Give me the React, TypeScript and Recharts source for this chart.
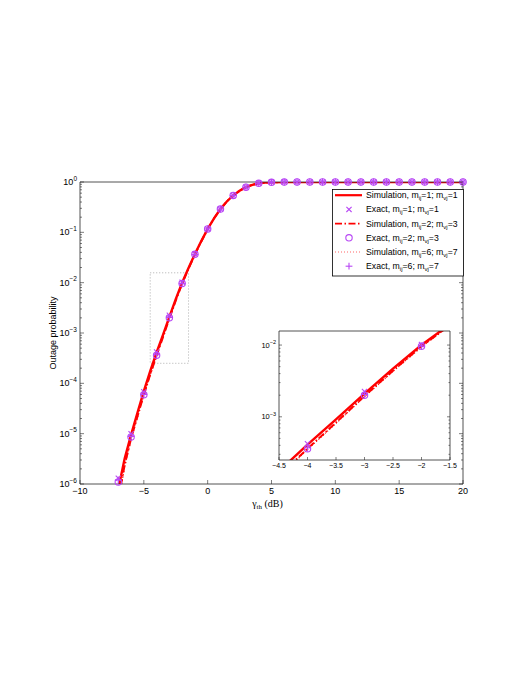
import { ComposedChart, Line, Scatter, XAxis, YAxis, ReferenceArea } from 'recharts';

const RED = '#ff0000';
const PURPLE = '#b847f5';
const AXIS = '#262626';
const SANS = '"Liberation Sans", Arial, Helvetica, sans-serif';
const SERIF = '"Liberation Serif", "DejaVu Serif", serif';

// simulation grid, threshold in dB
const simX = [-7, -6.5, -6, -5.5, -5, -4.5, -4, -3.5, -3, -2.5, -2, -1.5, -1, -0.5, 0, 0.5, 1, 1.5, 2, 2.5, 3, 3.5, 4, 4.5, 5,
  6, 7, 8, 9, 10, 11, 12, 13, 14, 15, 16, 17, 18, 19, 20];
const simM1 = [8e-7, 3.2e-6, 9.5e-6, 2.6e-5, 7.0e-5, 1.75e-4, 4.1e-4, 9.2e-4, 2.1e-3, 4.7e-3, 1.0e-2, 1.95e-2, 3.7e-2, 6.7e-2, 0.117, 0.19, 0.29, 0.41, 0.54, 0.67, 0.79, 0.88, 0.94, 0.97, 0.985,
  0.997, 0.9995, 1, 1, 1, 1, 1, 1, 1, 1, 1, 1, 1, 1, 1];
const simM23 = [5e-7, 2.4e-6, 8.0e-6, 2.2e-5, 5.9e-5, 1.5e-4, 3.6e-4, 8.3e-4, 1.95e-3, 4.4e-3, 9.6e-3, 1.9e-2, 3.6e-2, 6.6e-2, 0.116, 0.19, 0.29, 0.41, 0.54, 0.67, 0.79, 0.88, 0.94, 0.97, 0.985,
  0.997, 0.9995, 1, 1, 1, 1, 1, 1, 1, 1, 1, 1, 1, 1, 1];
const simM67 = [4.5e-7, 2.2e-6, 7.6e-6, 2.1e-5, 5.7e-5, 1.45e-4, 3.5e-4, 8.1e-4, 1.9e-3, 4.3e-3, 9.4e-3, 1.88e-2, 3.6e-2, 6.6e-2, 0.116, 0.19, 0.29, 0.41, 0.54, 0.67, 0.79, 0.88, 0.94, 0.97, 0.985,
  0.997, 0.9995, 1, 1, 1, 1, 1, 1, 1, 1, 1, 1, 1, 1, 1];

// closed form points
const exactX = [-7, -6, -5, -4, -3, -2, -1, 0, 1, 2, 3, 4, 5, 6, 7, 8, 9, 10, 11, 12, 13, 14, 15, 16, 17, 18, 19, 20];
const exactM1 = [1.3e-6, 1.0e-5, 6.8e-5, 4.2e-4, 2.25e-3, 1.02e-2, 3.7e-2, 0.117, 0.29, 0.54, 0.79, 0.94, 0.985, 0.997,
  1, 1, 1, 1, 1, 1, 1, 1, 1, 1, 1, 1, 1, 1];
const exactM23 = [1.1e-6, 8.6e-6, 5.9e-5, 3.6e-4, 2.0e-3, 9.6e-3, 3.65e-2, 0.117, 0.29, 0.54, 0.79, 0.94, 0.985, 0.997,
  1, 1, 1, 1, 1, 1, 1, 1, 1, 1, 1, 1, 1, 1];
const exactM67 = [1.2e-6, 8.8e-6, 6.0e-5, 3.7e-4, 2.05e-3, 9.7e-3, 3.65e-2, 0.117, 0.29, 0.54, 0.79, 0.94, 0.985, 0.997,
  1, 1, 1, 1, 1, 1, 1, 1, 1, 1, 1, 1, 1, 1];

const xTicks = [-10, -5, 0, 5, 10, 15, 20];
const decades = [-6, -5, -4, -3, -2, -1, 0];
const insetXTicks = [-4.5, -4, -3.5, -3, -2.5, -2, -1.5];
const insetDecades = [-4, -3, -2, -1];

const legendRows = [
  { kind: 'Simulation', mij: 1, mvj: 1, icon: 'solid' },
  { kind: 'Exact', mij: 1, mvj: 1, icon: 'x' },
  { kind: 'Simulation', mij: 2, mvj: 3, icon: 'dashdot' },
  { kind: 'Exact', mij: 2, mvj: 3, icon: 'o' },
  { kind: 'Simulation', mij: 6, mvj: 7, icon: 'dot' },
  { kind: 'Exact', mij: 6, mvj: 7, icon: '+' },
];

const pts = (xs: number[], ys: number[]) => xs.map((x, i) => ({ x, y: ys[i] }));

const logTicks = (ds: number[], lo: number, hi: number) => {
  const t: number[] = [];
  ds.forEach((k) => {
    for (let m = 1; m < 10; m++) t.push(m * Math.pow(10, k));
  });
  return t.filter((v) => v >= lo * 0.999 && v <= hi * 1.001);
};

const isMajor = (v: number) => Math.abs(Math.log10(v) - Math.round(Math.log10(v))) < 1e-6;
const num = (v: number) => (v < 0 ? '\u2212' + String(-v) : String(v));

const sim1 = pts(simX, simM1);
const sim23 = pts(simX, simM23);
const sim67 = pts(simX, simM67);
const ex1 = pts(exactX, exactM1);
const ex23 = pts(exactX, exactM23);
const ex67 = pts(exactX, exactM67);

const makeLeftTick = (fs: number, sup: number, len: number) => (p: any) => {
  const { x, y, payload } = p;
  const v = payload.value;
  const major = isMajor(v);
  return (
    <g>
      <line x1={x} x2={x + (major ? len : len / 2)} y1={y} y2={y} stroke={AXIS} strokeWidth={0.6} />
      {major && (
        <text x={x - 3} y={y + fs / 3} textAnchor="end" fontFamily={SANS} fontSize={fs} fill="#000">
          10<tspan dy={-fs / 2} fontSize={sup}>{num(Math.round(Math.log10(v)))}</tspan>
        </text>
      )}
    </g>
  );
};

const makeRightTick = (len: number) => (p: any) => {
  const { x, y, payload } = p;
  const major = isMajor(payload.value);
  return <line x1={x} x2={x - (major ? len : len / 2)} y1={y} y2={y} stroke={AXIS} strokeWidth={0.6} />;
};

const makeBottomTick = (fs: number, len: number) => (p: any) => {
  const { x, y, payload } = p;
  return (
    <g>
      <line x1={x} x2={x} y1={y} y2={y - len} stroke={AXIS} strokeWidth={0.6} />
      <text x={x} y={y + fs + 1} textAnchor="middle" fontFamily={SANS} fontSize={fs} fill="#000">
        {num(payload.value)}
      </text>
    </g>
  );
};

const makeTopTick = (len: number) => (p: any) => {
  const { x, y } = p;
  return <line x1={x} x2={x} y1={y} y2={y + len} stroke={AXIS} strokeWidth={0.6} />;
};

const CrossMark = (p: any) => (
  <g stroke={PURPLE} strokeWidth={1.1}>
    <line x1={p.cx - 2.6} y1={p.cy - 2.6} x2={p.cx + 2.6} y2={p.cy + 2.6} />
    <line x1={p.cx - 2.6} y1={p.cy + 2.6} x2={p.cx + 2.6} y2={p.cy - 2.6} />
  </g>
);
const CircleMark = (p: any) => <circle cx={p.cx} cy={p.cy} r={3.2} fill="none" stroke={PURPLE} strokeWidth={1.1} />;
const PlusMark = (p: any) => (
  <g stroke={PURPLE} strokeWidth={1.1}>
    <line x1={p.cx - 3.4} y1={p.cy} x2={p.cx + 3.4} y2={p.cy} />
    <line x1={p.cx} y1={p.cy - 3.4} x2={p.cx} y2={p.cy + 3.4} />
  </g>
);

const DASHDOT = '7 2.5 1.5 2.5';
const DOTTED = '1 2';

function LegendBox() {
  const rowY = (i: number) => 6.2 + i * 14.2;
  return (
    <svg width={132} height={88} style={{ position: 'absolute', left: 324, top: 181 }}>
      <rect x={0.5} y={0.5} width={131} height={86.5} fill="#fff" stroke="#000" strokeWidth={0.8} />
      {legendRows.map((r, i) => {
        const cy = rowY(i);
        let icon = null;
        if (r.icon === 'solid') icon = <line x1={3} x2={30} y1={cy} y2={cy} stroke={RED} strokeWidth={2.2} />;
        if (r.icon === 'dashdot') icon = <line x1={3} x2={30} y1={cy} y2={cy} stroke={RED} strokeWidth={1.8} strokeDasharray={DASHDOT} />;
        if (r.icon === 'dot') icon = <line x1={3} x2={30} y1={cy} y2={cy} stroke={RED} strokeWidth={1} strokeDasharray={DOTTED} opacity={0.6} />;
        if (r.icon === 'x') icon = <CrossMark cx={17} cy={cy} />;
        if (r.icon === 'o') icon = <CircleMark cx={17} cy={cy} />;
        if (r.icon === '+') icon = <PlusMark cx={17} cy={cy} />;
        return (
          <g key={i}>
            {icon}
            <text x={34} y={cy + 3} fontFamily={SANS} fontSize={8.7} fill="#000">
              {r.kind}, m<tspan dy={2} fontSize={6}>ij</tspan>
              <tspan dy={-2}>={r.mij}; m</tspan>
              <tspan dy={2} fontSize={6}>vj</tspan>
              <tspan dy={-2}>={r.mvj}</tspan>
            </text>
          </g>
        );
      })}
    </svg>
  );
}

function Inset() {
  const yTicks = logTicks(insetDecades, 2.5e-4, 0.0157);
  return (
    <div style={{ position: 'absolute', left: 241, top: 322 }}>
      <ComposedChart width={212} height={144} margin={{ top: 0, right: 10, bottom: 0, left: 0 }}>
        <XAxis xAxisId="b" dataKey="x" type="number" domain={[-4.5, -1.5]} ticks={insetXTicks} interval={0}
          allowDataOverflow height={14} tickSize={0} tickMargin={0} tickLine={false}
          axisLine={{ stroke: AXIS, strokeWidth: 0.8 }} tick={makeBottomTick(7, 3)} />
        <XAxis xAxisId="t" orientation="top" type="number" domain={[-4.5, -1.5]} ticks={insetXTicks} interval={0}
          allowDataOverflow height={1} tickSize={0} tickMargin={0} tickLine={false}
          axisLine={{ stroke: AXIS, strokeWidth: 0.8 }} tick={makeTopTick(3)} />
        <YAxis yAxisId="l" dataKey="y" type="number" scale="log" domain={[2.5e-4, 0.0157]} ticks={yTicks} interval={0}
          allowDataOverflow width={30} tickSize={0} tickMargin={0} tickLine={false}
          axisLine={{ stroke: AXIS, strokeWidth: 0.8 }} tick={makeLeftTick(7.5, 5.5, 3)} />
        <YAxis yAxisId="r" orientation="right" type="number" scale="log" domain={[2.5e-4, 0.0157]} ticks={yTicks} interval={0}
          allowDataOverflow width={1} tickSize={0} tickMargin={0} tickLine={false}
          axisLine={{ stroke: AXIS, strokeWidth: 0.8 }} tick={makeRightTick(3)} />
        <Line xAxisId="b" yAxisId="l" data={sim1} dataKey="y" type="linear" stroke={RED} strokeWidth={2.4} dot={false} isAnimationActive={false} />
        <Scatter xAxisId="b" yAxisId="l" data={ex1} dataKey="y" shape={CrossMark} isAnimationActive={false} />
        <Line xAxisId="b" yAxisId="l" data={sim23} dataKey="y" type="linear" stroke={RED} strokeWidth={2} strokeDasharray={DASHDOT} dot={false} isAnimationActive={false} />
        <Scatter xAxisId="b" yAxisId="l" data={ex23} dataKey="y" shape={CircleMark} isAnimationActive={false} />
        <Line xAxisId="b" yAxisId="l" data={sim67} dataKey="y" type="linear" stroke={RED} strokeWidth={1.2} strokeDasharray={DOTTED} dot={false} isAnimationActive={false} />
        <Scatter xAxisId="b" yAxisId="l" data={ex67} dataKey="y" shape={PlusMark} isAnimationActive={false} />
      </ComposedChart>
    </div>
  );
}

export default function App() {
  const yTicks = logTicks(decades, 1e-6, 1);
  return (
    <div style={{ position: 'relative', width: 510, height: 560 }}>
      <ComposedChart width={510} height={560} margin={{ top: 173, right: 54, bottom: 54, left: 32 }}>
        <XAxis xAxisId="b" dataKey="x" type="number" domain={[-10, 20]} ticks={xTicks} interval={0}
          height={30} tickSize={0} tickMargin={0} tickLine={false}
          axisLine={{ stroke: AXIS, strokeWidth: 0.8 }} tick={makeBottomTick(9, 4)}
          label={(p: any) => {
            const vb = p.viewBox;
            return (
              <text x={vb.x + vb.width / 2 - 4} y={vb.y + 23} textAnchor="middle" fontFamily={SERIF} fontSize={10} fill="#000">
                γ<tspan dy={2} fontSize={7}>th</tspan>
                <tspan dy={-2}> (dB)</tspan>
              </text>
            );
          }} />
        <XAxis xAxisId="t" orientation="top" type="number" domain={[-10, 20]} ticks={xTicks} interval={0}
          allowDataOverflow height={1} tickSize={0} tickMargin={0} tickLine={false}
          axisLine={{ stroke: AXIS, strokeWidth: 0.8 }} tick={makeTopTick(4)} />
        <YAxis yAxisId="l" dataKey="y" type="number" scale="log" domain={[1e-6, 1]} ticks={yTicks} interval={0}
          allowDataOverflow width={40} tickSize={0} tickMargin={0} tickLine={false}
          axisLine={{ stroke: AXIS, strokeWidth: 0.8 }} tick={makeLeftTick(9, 6.5, 4)}
          label={(p: any) => {
            const vb = p.viewBox;
            const cx = vb.x + 13;
            const cy = vb.y + vb.height / 2;
            return (
              <text x={cx} y={cy} transform={`rotate(-90 ${cx} ${cy})`} textAnchor="middle" dominantBaseline="central"
                fontFamily={SANS} fontSize={9} fill="#000">
                Outage probability
              </text>
            );
          }} />
        <YAxis yAxisId="r" orientation="right" dataKey="y" type="number" scale="log" domain={[1e-6, 1]} ticks={yTicks} interval={0}
          width={1} tickSize={0} tickMargin={0} tickLine={false}
          axisLine={{ stroke: AXIS, strokeWidth: 0.8 }} tick={makeRightTick(4)} />
        <ReferenceArea xAxisId="b" yAxisId="l" x1={-4.5} x2={-1.5} y1={2.5e-4} y2={0.0157}
          fill="none" stroke="#999" strokeWidth={0.8} strokeDasharray="1 2" />
        <Line xAxisId="b" yAxisId="l" data={sim1} dataKey="y" type="linear" stroke={RED} strokeWidth={2.4} dot={false} isAnimationActive={false} />
        <Scatter xAxisId="b" yAxisId="r" data={ex1} dataKey="y" shape={CrossMark} isAnimationActive={false} />
        <Line xAxisId="b" yAxisId="l" data={sim23} dataKey="y" type="linear" stroke={RED} strokeWidth={2} strokeDasharray={DASHDOT} dot={false} isAnimationActive={false} />
        <Scatter xAxisId="b" yAxisId="r" data={ex23} dataKey="y" shape={CircleMark} isAnimationActive={false} />
        <Line xAxisId="b" yAxisId="l" data={sim67} dataKey="y" type="linear" stroke={RED} strokeWidth={1.2} strokeDasharray={DOTTED} dot={false} isAnimationActive={false} />
        <Scatter xAxisId="b" yAxisId="r" data={ex67} dataKey="y" shape={PlusMark} isAnimationActive={false} />
      </ComposedChart>
      <LegendBox />
      <Inset />
    </div>
  );
}
